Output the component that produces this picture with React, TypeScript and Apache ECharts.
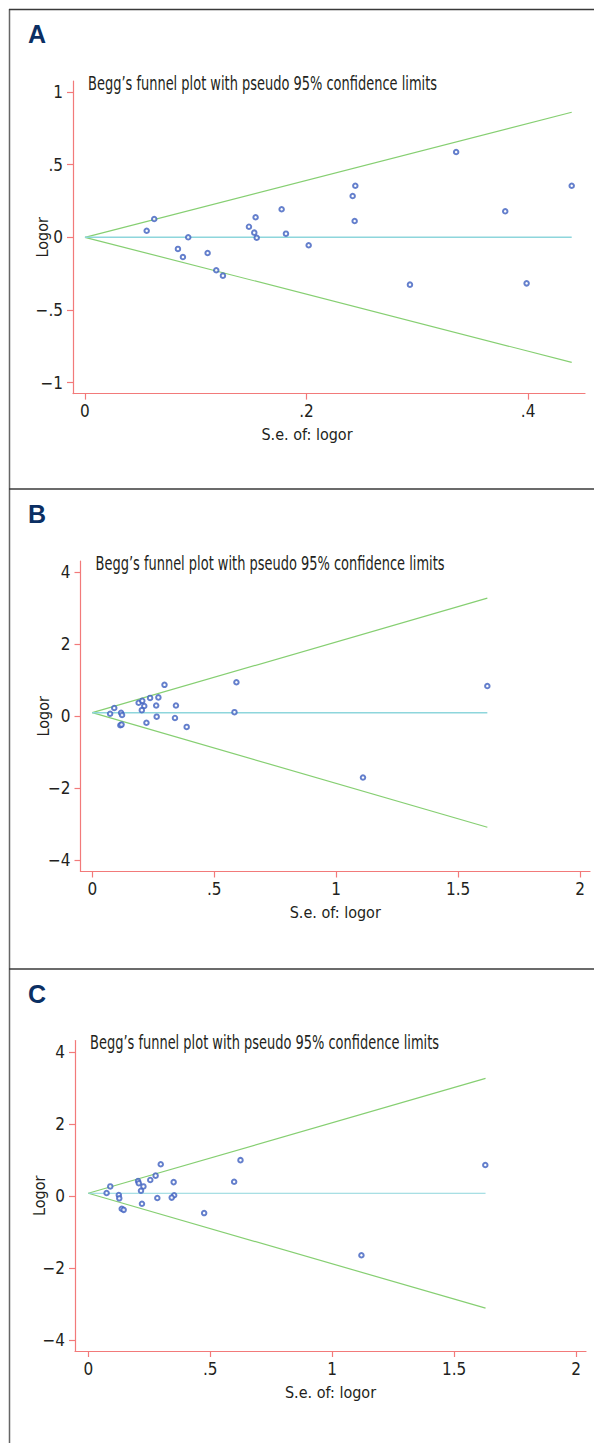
import React, { useEffect, useRef } from "react";
import * as echarts from "echarts";

// ---------- data ----------
// Panel A: [s.e. of logor, logor]
const pointsA: [number, number][] = [
  [0.0625, 0.126], [0.0557, 0.045], [0.0932, 0.0], [0.0839, -0.08], [0.0884, -0.136],
  [0.1107, -0.108], [0.1185, -0.227], [0.1245, -0.264], [0.148, 0.073], [0.154, 0.138],
  [0.1528, 0.032], [0.155, -0.003], [0.1775, 0.193], [0.1814, 0.025], [0.2019, -0.055],
  [0.2416, 0.284], [0.244, 0.355], [0.2434, 0.112], [0.335, 0.587], [0.2933, -0.326],
  [0.3793, 0.179], [0.3986, -0.317], [0.4393, 0.355],
];
const pooledA: [number, number][] = [[0, 0], [0.4393, 0]];
const upperA: [number, number][] = [[0, 0], [0.4393, 0.861]];
const lowerA: [number, number][] = [[0, 0], [0.4393, -0.861]];

// Panel B
const pointsB: [number, number][] = [
  [0.073, 0.07], [0.09, 0.23], [0.118, 0.097], [0.122, 0.035], [0.115, -0.25],
  [0.12, -0.23], [0.19, 0.375], [0.205, 0.43], [0.213, 0.285], [0.203, 0.17],
  [0.222, -0.18], [0.237, 0.51], [0.262, 0.3], [0.271, 0.525], [0.264, -0.01],
  [0.296, 0.874], [0.343, 0.3], [0.339, -0.046], [0.387, -0.295], [0.591, 0.946],
  [0.583, 0.115], [1.11, -1.7], [1.62, 0.84],
];
const pooledB: [number, number][] = [[0, 0.1], [1.62, 0.1]];
const upperB: [number, number][] = [[0, 0.1], [1.62, 3.28]];
const lowerB: [number, number][] = [[0, 0.1], [1.62, -3.08]];

// Panel C
const pointsC: [number, number][] = [
  [0.075, 0.078], [0.09, 0.26], [0.125, 0.02], [0.127, -0.07], [0.137, -0.36],
  [0.145, -0.39], [0.204, 0.41], [0.207, 0.35], [0.226, 0.26], [0.216, 0.14],
  [0.22, -0.22], [0.254, 0.44], [0.276, 0.56], [0.283, -0.06], [0.297, 0.875],
  [0.35, 0.38], [0.352, 0.014], [0.342, -0.05], [0.475, -0.48], [0.598, 0.39],
  [0.624, 0.99], [1.12, -1.65], [1.628, 0.855],
];
const pooledC: [number, number][] = [[0, 0.07], [1.629, 0.07]];
const upperC: [number, number][] = [[0, 0.07], [1.629, 3.26]];
const lowerC: [number, number][] = [[0, 0.07], [1.629, -3.12]];

// tick labels
const xTicksA = [0, 0.2, 0.4];
const yTicksA = [-1, -0.5, 0, 0.5, 1];
const xTicksBC = [0, 0.5, 1, 1.5, 2];
const yTicksBC = [-4, -2, 0, 2, 4];

const panelLetters = ["A", "B", "C"];
const plotTitle = "Begg\u2019s funnel plot with pseudo 95% confidence limits";
const xName = "S.e. of: logor";
const yName = "Logor";

// ---------- styles ----------
const FONT = '"DejaVu Sans Condensed", "Liberation Sans Narrow", "Arial Narrow", sans-serif';
const AXIS_RED = "#f27a7a";
const GREEN = "#86cf72";
const CYAN = "#8ed6dc";
const BLUE = "#3d5fbf";
const TEXT = "#231f20";
const NAVY = "#0b2f63";
const FRAME = "#3a3a3a";

function fmt(v: number): string {
  if (Math.abs(v) < 1e-9) return "0";
  let t = String(+Math.abs(v).toFixed(3));
  if (t.startsWith("0.")) t = t.slice(1);
  return (v < 0 ? "\u2212" : "") + t;
}

type PanelGeom = {
  left: number; top: number; width: number; height: number;
  xmin: number; xmax: number; ymin: number; ymax: number;
  xTicks: number[]; yTicks: number[]; xNamePad: number; yNameGap: number;
};

const geoms: PanelGeom[] = [
  { left: 73, top: 81, width: 512, height: 312.6, xmin: -0.0108, xmax: 0.4513, ymin: -1.076, ymax: 1.076, xTicks: xTicksA, yTicks: yTicksA, xNamePad: 44, yNameGap: 23 },
  { left: 80.5, top: 561.1, width: 509.5, height: 310.4, xmin: -0.0484, xmax: 2.041, ymin: -4.31, ymax: 4.31, xTicks: xTicksBC, yTicks: yTicksBC, xNamePad: 0, yNameGap: 29 },
  { left: 75, top: 1040.6, width: 511, height: 310.4, xmin: -0.0546, xmax: 2.041, ymin: -4.31, ymax: 4.31, xTicks: xTicksBC, yTicks: yTicksBC, xNamePad: 0, yNameGap: 28 },
];

const panelData = [
  { pts: pointsA, pooled: pooledA, upper: upperA, lower: lowerA, cyanW: 1.5 },
  { pts: pointsB, pooled: pooledB, upper: upperB, lower: lowerB, cyanW: 1.5 },
  { pts: pointsC, pooled: pooledC, upper: upperC, lower: lowerC, cyanW: 1 },
];

const panelTops = [9.5, 489, 969];

export default function App() {
  const ref = useRef<HTMLDivElement>(null);
  useEffect(() => {
    if (!ref.current) return;
    const chart = echarts.init(ref.current, undefined, { renderer: "svg" });

    const grid: any[] = [];
    const xAxis: any[] = [];
    const yAxis: any[] = [];
    const series: any[] = [];
    const graphic: any[] = [];

    geoms.forEach((g, i) => {
      grid.push({ left: g.left, top: g.top, width: g.width, height: g.height, containLabel: false });
      xAxis.push({
        type: "value", gridIndex: i, min: g.xmin, max: g.xmax,
        axisLine: { show: true, onZero: false, lineStyle: { color: AXIS_RED, width: 1.2 } },
        axisTick: { show: true, length: 6, customValues: g.xTicks, lineStyle: { color: AXIS_RED, width: 1.2 } },
        axisLabel: { customValues: g.xTicks, formatter: fmt, margin: 9, color: TEXT, fontSize: 17, fontFamily: FONT },
        splitLine: { show: false },
        name: xName, nameLocation: "middle", nameGap: 33, nameMoveOverlap: false,
        nameTextStyle: { color: TEXT, fontSize: 16, fontFamily: FONT, padding: [0, g.xNamePad, 0, 0] },
      });
      yAxis.push({
        type: "value", gridIndex: i, min: g.ymin, max: g.ymax,
        axisLine: { show: true, onZero: false, lineStyle: { color: AXIS_RED, width: 1.2 } },
        axisTick: { show: true, length: 6, customValues: g.yTicks, lineStyle: { color: AXIS_RED, width: 1.2 } },
        axisLabel: { customValues: g.yTicks, formatter: fmt, margin: 10, color: TEXT, fontSize: 17, fontFamily: FONT },
        splitLine: { show: false },
        name: yName, nameLocation: "middle", nameGap: g.yNameGap, nameRotate: 90, nameMoveOverlap: false,
        nameTextStyle: { color: TEXT, fontSize: 16, fontFamily: FONT },
      });
      const d = panelData[i];
      const lineBase = { type: "line", xAxisIndex: i, yAxisIndex: i, symbol: "none", silent: true, z: 2 };
      series.push({ ...lineBase, name: "upper" + i, data: d.upper, lineStyle: { color: GREEN, width: 1.2 } });
      series.push({ ...lineBase, name: "lower" + i, data: d.lower, lineStyle: { color: GREEN, width: 1.2 } });
      series.push({ ...lineBase, name: "pooled" + i, data: d.pooled, lineStyle: { color: CYAN, width: d.cyanW } });
      series.push({
        type: "scatter", xAxisIndex: i, yAxisIndex: i, name: "studies" + i, data: d.pts,
        symbol: "emptyCircle", symbolSize: 4.5, z: 3,
        itemStyle: { color: BLUE, borderColor: BLUE, borderWidth: 1.3 },
      });

      const pt = panelTops[i];
      graphic.push({
        type: "text", left: 28, top: pt + 12,
        style: { text: panelLetters[i], fill: NAVY, font: `bold 25px "Liberation Sans", Arial, sans-serif` },
      });
      graphic.push({
        type: "text", x: g.left + 15, y: g.top + 2, scaleX: 0.76,
        style: { text: plotTitle, fill: TEXT, font: `19px ${FONT}`, verticalAlign: "middle", align: "left" },
      });
    });

    // frame lines
    graphic.push({ type: "line", shape: { x1: 9.5, y1: 9, x2: 9.5, y2: 1443 }, style: { stroke: "#666", lineWidth: 1.5 } });
    panelTops.forEach((pt) => {
      graphic.push({ type: "line", shape: { x1: 9, y1: pt, x2: 594, y2: pt }, style: { stroke: FRAME, lineWidth: 1.6 } });
    });

    chart.setOption({
      animation: false,
      backgroundColor: "#ffffff",
      grid, xAxis, yAxis, series, graphic,
    });
    return () => chart.dispose();
  }, []);

  return (
    <div
      ref={ref}
      style={{ position: "absolute", left: 0, top: 0, width: 594, height: 1443 }}
    />
  );
}
